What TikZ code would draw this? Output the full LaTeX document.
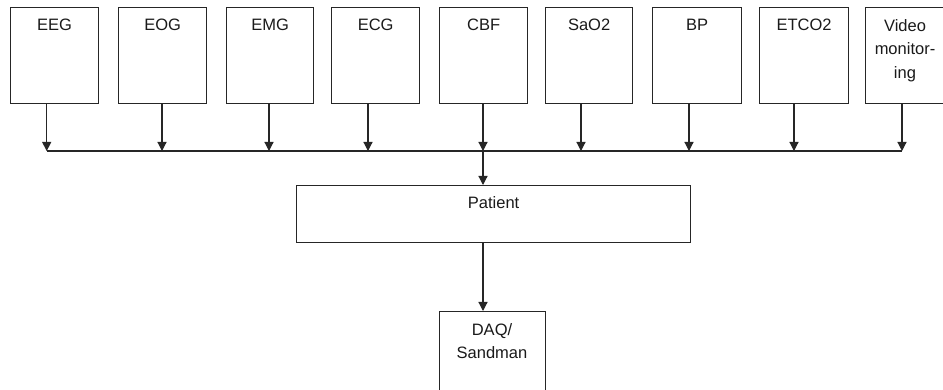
\documentclass[tikz,border=0pt]{standalone}
\usepackage{fontspec}
\setmainfont{Liberation Sans}
\usetikzlibrary{arrows.meta}
\definecolor{linec}{HTML}{262626}
\definecolor{txtc}{HTML}{1A1A1A}
\tikzset{
  x=1pt, y=-1pt,
  box/.style={draw=linec, line width=1.3pt, anchor=north west, inner sep=0pt, fill=white},
  lbl/.style={anchor=base, inner sep=0pt, text=txtc, font=\fontsize{16.5}{23.5}\selectfont, align=center},
  arr/.style={draw=linec, line width=1.2pt, -{Triangle[length=9pt,width=9pt]}},
  bus/.style={draw=linec, line width=1.2pt}
}
\begin{document}
\begin{tikzpicture}
\useasboundingbox (0,0) rectangle (943,390);
\clip (0,0) rectangle (943,390);
\fill[white] (0,0) rectangle (943,390);
% top boxes
\node[box, minimum width=88pt, minimum height=96pt] (eeg) at (10,7) {};
\node[box, minimum width=88pt, minimum height=96pt] (eog) at (118,7) {};
\node[box, minimum width=87pt, minimum height=96pt] (emg) at (226,7) {};
\node[box, minimum width=88pt, minimum height=96pt] (ecg) at (331,7) {};
\node[box, minimum width=88pt, minimum height=96pt] (cbf) at (439,7) {};
\node[box, minimum width=87pt, minimum height=96pt] (sao) at (545,7) {};
\node[box, minimum width=89pt, minimum height=96pt] (bp) at (652,7) {};
\node[box, minimum width=89pt, minimum height=96pt] (etc) at (759,7) {};
\node[box, minimum width=95pt, minimum height=96pt] (vid) at (865,7) {};
% labels
\node[lbl] (teeg) at ([yshift=-24pt]eeg.north) {EEG};
\node[lbl] (teog) at ([yshift=-24pt]eog.north) {EOG};
\node[lbl] (temg) at ([yshift=-24pt]emg.north) {EMG};
\node[lbl] (tecg) at ([yshift=-24pt]ecg.north) {ECG};
\node[lbl] (tcbf) at ([yshift=-24pt]cbf.north) {CBF};
\node[lbl] (tsao) at ([yshift=-24pt]sao.north) {SaO2};
\node[lbl] (tbp) at ([yshift=-24pt]bp.north) {BP};
\node[lbl] (tetc) at ([yshift=-24pt]etc.north) {ETCO2};
\node[lbl, anchor=north] (tvid) at (905,19) {Video\\monitor-\\ing};
% patient and DAQ
\node[box, minimum width=394pt, minimum height=57pt] (pat) at (296,185) {};
\node[lbl] (tpat) at ([yshift=-24pt]pat.north) {Patient};
\node[box, minimum width=106pt, minimum height=100pt] (daq) at (439,311) {};
\node[lbl, anchor=north] (tdaq) at (492,323) {DAQ/\\Sandman};
% bus coordinates
\coordinate (b1) at (46.7,151);
\coordinate (b2) at (162,151);
\coordinate (b3) at (269,151);
\coordinate (b4) at (368,151);
\coordinate (b5) at (483,151);
\coordinate (b6) at (581,151);
\coordinate (b7) at (689,151);
\coordinate (b8) at (794,151);
\coordinate (b9) at (902,151);
\draw[bus] (b1) -- (b9);
\draw[arr] (eeg.south -| b1) -- (b1);
\draw[arr] (eog.south -| b2) -- (b2);
\draw[arr] (emg.south -| b3) -- (b3);
\draw[arr] (ecg.south -| b4) -- (b4);
\draw[arr] (cbf.south -| b5) -- (b5);
\draw[arr] (sao.south -| b6) -- (b6);
\draw[arr] (bp.south -| b7) -- (b7);
\draw[arr] (etc.south -| b8) -- (b8);
\draw[arr] (vid.south -| b9) -- (b9);
\draw[arr] (b5) -- (b5 |- pat.north);
\draw[arr] (pat.south -| b5) -- (b5 |- daq.north);
\end{tikzpicture}
\end{document}
